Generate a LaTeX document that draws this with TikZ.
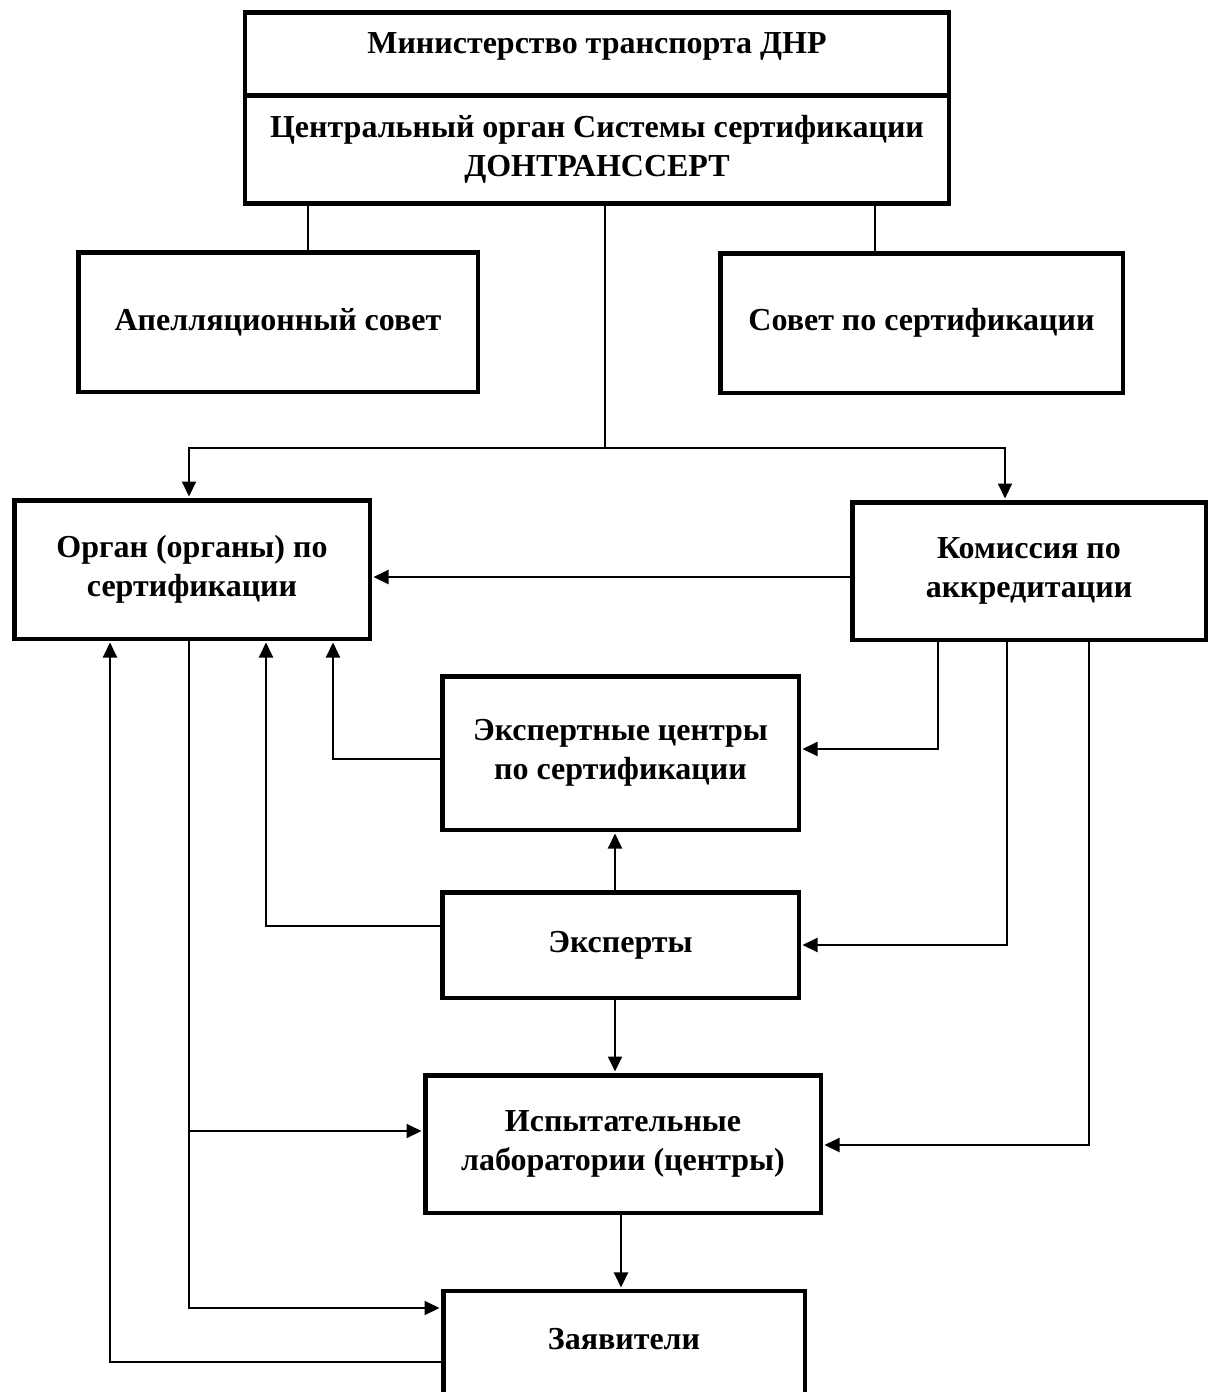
\documentclass[tikz,border=0pt]{standalone}
\usepackage{fontspec}
\setmainfont{Liberation Serif}
\usetikzlibrary{arrows.meta}
\tikzset{
  box/.style={draw, line width=4.5pt, inner sep=0pt, align=center,
    font=\bfseries\fontsize{32}{39}\selectfont},
  txt/.style={inner sep=0pt, align=center, font=\bfseries\fontsize{32}{39}\selectfont},
  ln/.style={line width=2pt},
  arr/.style={line width=2pt, -{Triangle[length=15pt,width=14pt]}, shorten >=1.5pt},
}
\begin{document}
\begin{tikzpicture}[x=1pt,y=-1pt]
\useasboundingbox (0,0) rectangle (1216,1392);
\clip (0,0) rectangle (1216,1392);
\fill[white] (0,0) rectangle (1216,1392);
% boxes
\node[box, minimum width=704pt, minimum height=83.25pt] (top1) at (597,53.9) {};
\node[txt] (t1) at (597,46) {Министерство транспорта ДНР};
\node[box, minimum width=704pt, minimum height=108.25pt] (top2) at (597,149.6)
  {Центральный орган Системы сертификации\\ДОНТРАНССЕРТ};
\node[box, minimum width=399.5pt, minimum height=139.5pt] (apel) at (278,322) {Апелляционный совет};
\node[box, minimum width=402.5pt, minimum height=139.5pt] (sovet) at (921.5,323) {Совет по сертификации};
\node[box, minimum width=355.5pt, minimum height=138.5pt] (organ) at (192,569.5) {Орган (органы) по\\сертификации};
\node[box, minimum width=353.5pt, minimum height=137.5pt] (kom) at (1029,571) {Комиссия по\\аккредитации};
\node[box, minimum width=356.5pt, minimum height=153.5pt] (expc) at (620.5,753) {Экспертные центры\\по сертификации};
\node[box, minimum width=356.5pt, minimum height=105.5pt] (exp) at (620.5,945) {Эксперты};
\node[box, minimum width=395.5pt, minimum height=137.5pt] (isp) at (623,1144) {Испытательные\\лаборатории (центры)};
\node[box, minimum width=361.5pt, minimum height=128.75pt] (zay) at (624,1355.6) {};
\node[txt] (tz) at (624,1339) {Заявители};
% connectors
\coordinate (hub) at (605,448);
\draw[ln] (top2.south -| 308,0) -- (apel.north -| 308,0);
\draw[ln] (top2.south -| 875,0) -- (sovet.north -| 875,0);
\draw[ln] (top2.south -| hub) -- (hub);
\draw[arr] (hub) -| (organ.north -| 189,0);
\draw[arr] (hub) -| (kom.north -| 1005,0);
\draw[arr] (kom.west |- 0,577) -- (organ.east |- 0,577);
\draw[arr] (expc.west |- 0,759) -| (organ.south -| 333,0);
\draw[arr] (exp.west |- 0,926) -| (organ.south -| 266,0);
\draw[arr] (zay.west |- 0,1362) -| (organ.south -| 110,0);
\draw[arr] (organ.south -| 189,0) |- (zay.west |- 0,1308);
\coordinate (br) at (189,1131);
\draw[arr] (br) -- (isp.west |- br);
\draw[arr] (kom.south -| 938,0) |- (expc.east |- 0,749);
\draw[arr] (kom.south -| 1007,0) |- (exp.east |- 0,945);
\draw[arr] (kom.south -| 1089,0) |- (isp.east |- 0,1145);
\draw[arr] (exp.north -| 615,0) -- (expc.south -| 615,0);
\draw[arr] (exp.south -| 615,0) -- (isp.north -| 615,0);
\draw[arr] (isp.south -| 621,0) -- (zay.north -| 621,0);
\end{tikzpicture}
\end{document}
